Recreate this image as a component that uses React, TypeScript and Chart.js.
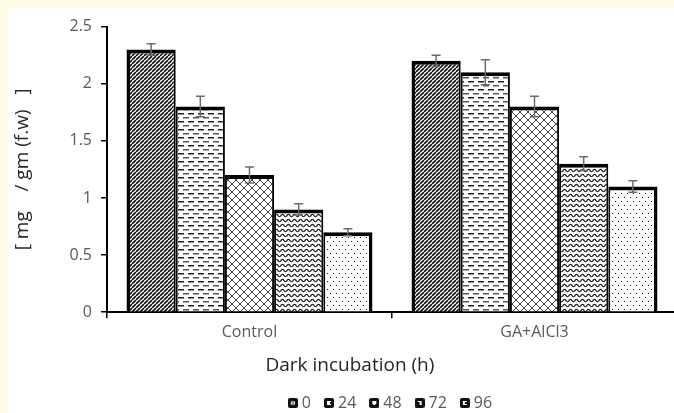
import React, { useEffect, useRef } from 'react';
import { Chart, registerables } from 'chart.js';

Chart.register(...registerables);

// ---- data ----
const categories = ['Control', 'GA+AlCl3'];
const seriesNames = ['0', '24', '48', '72', '96'];
const values0 = [2.3, 2.2];
const values24 = [1.8, 2.1];
const values48 = [1.2, 1.8];
const values72 = [0.9, 1.3];
const values96 = [0.7, 1.1];
const err0 = [0.05, 0.05];
const err24 = [0.09, 0.11];
const err48 = [0.07, 0.09];
const err72 = [0.05, 0.06];
const err96 = [0.03, 0.05];
const yMin = 0;
const yMax = 2.5;
const yStep = 0.5;

const seriesValues = [values0, values24, values48, values72, values96];
const seriesErrors = [err0, err24, err48, err72, err96];

const CREAM = '#FFFBE6';
const FONT = "'Open Sans', 'DejaVu Sans', sans-serif";

function makeTile(w: number, h: number, draw: (g: CanvasRenderingContext2D) => void) {
  const c = document.createElement('canvas');
  c.width = w;
  c.height = h;
  const g = c.getContext('2d')!;
  g.fillStyle = '#ffffff';
  g.fillRect(0, 0, w, h);
  draw(g);
  return c;
}

function makeIcon(i: number) {
  const c = document.createElement('canvas');
  c.width = 10;
  c.height = 10;
  const g = c.getContext('2d')!;
  g.fillStyle = '#111';
  g.beginPath();
  (g as any).roundRect ? (g as any).roundRect(0, 0, 10, 10, 2) : g.rect(0, 0, 10, 10);
  g.fill();
  g.fillStyle = '#fff';
  if (i === 0) {
    g.beginPath();
    g.arc(5, 5, 2.2, 0, Math.PI * 2);
    g.fill();
    g.fillStyle = '#111';
    g.fillRect(4.5, 3, 1, 4);
  } else if (i === 1) {
    g.fillRect(3, 3, 4, 4);
    g.fillStyle = '#111';
    g.fillRect(6, 4, 1, 2);
  } else if (i === 2) {
    g.fillRect(3, 3, 4, 3);
    g.fillRect(4, 6, 2, 1);
  } else if (i === 3) {
    g.fillRect(3, 3, 4, 4);
    g.fillStyle = '#111';
    g.fillRect(3, 4, 2, 3);
  } else {
    g.fillRect(3, 3, 4, 4);
    g.fillStyle = '#111';
    g.fillRect(5, 4, 2, 2);
  }
  return c;
}

export default function App() {
  const ref = useRef<HTMLCanvasElement>(null);

  useEffect(() => {
    const canvas = ref.current!;
    const ctx = canvas.getContext('2d')!;

    const p0 = ctx.createPattern(
      makeTile(4, 4, (g) => {
        g.strokeStyle = '#111';
        g.lineWidth = 1.6;
        g.beginPath();
        for (const o of [-4, 0, 4]) {
          g.moveTo(o, 4);
          g.lineTo(o + 4, 0);
        }
        g.stroke();
      }),
      'repeat'
    )!;
    const p24 = ctx.createPattern(
      makeTile(10, 8, (g) => {
        g.fillStyle = '#222';
        g.fillRect(0, 1, 6, 1.5);
        g.fillStyle = '#555';
        g.fillRect(5, 5, 5, 1.5);
        g.fillRect(0, 5, 1, 1.5);
      }),
      'repeat'
    )!;
    const p48 = ctx.createPattern(
      makeTile(8, 8, (g) => {
        g.strokeStyle = '#444';
        g.lineWidth = 1;
        g.beginPath();
        g.moveTo(0, 0);
        g.lineTo(8, 8);
        g.moveTo(0, 8);
        g.lineTo(8, 0);
        g.stroke();
      }),
      'repeat'
    )!;
    const p72 = ctx.createPattern(
      makeTile(6, 5, (g) => {
        g.strokeStyle = '#1a1a1a';
        g.lineWidth = 1.2;
        g.beginPath();
        for (let x = -0.5; x <= 6.5; x += 0.5) {
          const y = 2.5 + 1.2 * Math.sin((2 * Math.PI * x) / 6);
          if (x === -0.5) g.moveTo(x, y);
          else g.lineTo(x, y);
        }
        g.stroke();
      }),
      'repeat'
    )!;
    const p96 = ctx.createPattern(
      makeTile(6, 8, (g) => {
        g.fillStyle = '#111';
        g.fillRect(1, 1, 1, 1);
        g.fillRect(4, 5, 1, 1);
      }),
      'repeat'
    )!;
    const patterns = [p0, p24, p48, p72, p96];
    const icons = seriesNames.map((_, i) => makeIcon(i));

    const errorBars = {
      id: 'errorBars',
      afterDatasetsDraw(chart: any) {
        const c = chart.ctx;
        const ys = chart.scales.y;
        chart.data.datasets.forEach((ds: any, i: number) => {
          const meta = chart.getDatasetMeta(i);
          meta.data.forEach((bar: any, j: number) => {
            const v = ds.data[j];
            const e = seriesErrors[i][j];
            const yt = ys.getPixelForValue(v + e);
            const yb = ys.getPixelForValue(v - e);
            c.save();
            c.strokeStyle = '#6b6b6b';
            c.lineWidth = 1.5;
            c.beginPath();
            c.moveTo(bar.x, yt);
            c.lineTo(bar.x, yb);
            c.moveTo(bar.x - 4.5, yt);
            c.lineTo(bar.x + 4.5, yt);
            c.moveTo(bar.x - 4.5, yb);
            c.lineTo(bar.x + 4.5, yb);
            c.stroke();
            c.restore();
          });
        });
      },
    };

    const last = seriesNames.length - 1;
    const chart = new Chart(canvas, {
      type: 'bar',
      data: {
        labels: categories,
        datasets: seriesNames.map((name, i) => ({
          label: name,
          data: seriesValues[i],
          backgroundColor: patterns[i] as any,
          borderColor: '#000',
          borderWidth: { top: 4, left: i === 0 ? 3.5 : 2, right: i === last ? 3.5 : 2, bottom: 0 },
          borderSkipped: false as any,
          inflateAmount: 0,
          categoryPercentage: 0.863,
          barPercentage: 1,
        })),
      },
      options: {
        responsive: false,
        animation: false,
        devicePixelRatio: 1,
        layout: { padding: { top: 16, right: 15, left: 0, bottom: 0 } },
        scales: {
          x: {
            grid: {
              display: true,
              drawOnChartArea: false,
              drawTicks: true,
              tickLength: 6,
              color: '#000',
              lineWidth: 1.5,
              offset: true,
            },
            border: { display: true, color: '#000', width: 2 },
            ticks: { color: '#595959', font: { family: FONT, size: 16 }, padding: 5 },
            afterFit: (s: any) => {
              s.height = 37;
            },
          },
          y: {
            min: yMin,
            max: yMax,
            ticks: {
              stepSize: yStep,
              color: '#595959',
              font: { family: FONT, size: 16 },
              padding: 9,
              callback: (v: any) => String(Number(v)),
            },
            grid: {
              display: true,
              drawOnChartArea: false,
              drawTicks: true,
              tickLength: 6,
              color: '#000',
              lineWidth: 1.5,
            },
            border: { display: true, color: '#000', width: 2 },
            title: {
              display: true,
              text: '[ mg    / gm (f.w)   ]',
              color: '#262626',
              font: { family: FONT, size: 19 },
              padding: { top: 3, bottom: 0 },
            },
            afterFit: (s: any) => {
              s.width = 99;
            },
          },
        },
        plugins: {
          title: {
            display: true,
            position: 'bottom',
            text: '   Dark incubation (h)',
            color: '#262626',
            font: { family: FONT, size: 19, weight: 'normal' },
            padding: { top: 5, bottom: 1 },
            weight: 500,
          } as any,
          legend: {
            display: true,
            position: 'bottom',
            fullSize: false,
            weight: 1000,
            labels: {
              usePointStyle: true,
              pointStyleWidth: 2,
              boxHeight: 10,
              padding: 17,
              color: '#595959',
              font: { family: FONT, size: 16 },
              generateLabels: (ch: any) =>
                Chart.defaults.plugins.legend.labels
                  .generateLabels(ch)
                  .map((it: any, i: number) => ({ ...it, pointStyle: icons[i] })),
            },
          } as any,
          tooltip: { enabled: false },
        },
      },
      plugins: [errorBars],
    });

    return () => chart.destroy();
  }, []);

  return (
    <div style={{ position: 'fixed', inset: 0, background: CREAM, overflow: 'hidden' }}>
      <canvas
        ref={ref}
        width={684}
        height={413}
        style={{ position: 'absolute', left: 8, top: 8, width: 684, height: 413, background: '#fff', display: 'block' }}
      />
    </div>
  );
}
